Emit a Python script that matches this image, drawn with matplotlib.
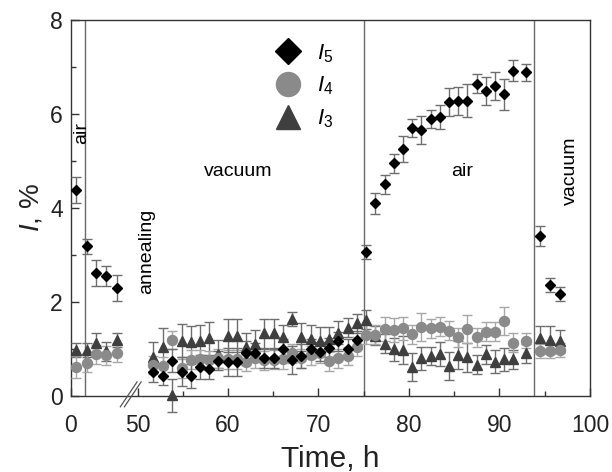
import matplotlib
matplotlib.use("Agg")
import matplotlib.pyplot as plt
import numpy as np

plt.rcParams['font.family'] = ['Liberation Sans', 'DejaVu Sans']
plt.rcParams['mathtext.fontset'] = 'custom'
plt.rcParams['mathtext.it'] = 'Liberation Sans:italic'
plt.rcParams['mathtext.rm'] = 'Liberation Sans'

# ---- data (time in h) ----
# first "air" segment, real hours from 0 (drawn left of the axis break)
t_first = [0.55, 1.74, 2.77, 3.87, 5.05]
i5_first = [4.38, 3.18, 2.61, 2.55, 2.29]
i5_first_err = [0.28, 0.16, 0.28, 0.22, 0.28]
i4_first = [0.62, 0.71, 0.89, 0.87, 0.92]
i4_first_err = [0.23, 0.2, 0.2, 0.2, 0.2]
i3_first = [0.98, 0.98, 1.13, 0.95, 1.19]
i3_first_err = [0.15, 0.15, 0.2, 0.2, 0.15]

# vacuum after annealing
t_vac = [51.75, 52.79, 53.85, 54.89, 55.88, 56.91, 57.94, 58.94, 59.98, 60.97,
         62.0, 63.03, 64.03, 65.06, 66.06, 67.09, 68.12, 69.12, 70.15, 71.18,
         72.18, 73.21, 74.25]
i5_vac = [0.50, 0.43, 0.75, 0.52, 0.43, 0.62, 0.57, 0.75, 0.72, 0.73, 0.92, 0.92,
          0.80, 0.80, 1.01, 0.77, 0.85, 1.01, 0.94, 1.03, 1.16, 1.01, 1.19]
i5_vac_err = [0.2, 0.2, 0.25, 0.3, 0.25, 0.25, 0.2, 0.2, 0.3, 0.3, 0.25, 0.2,
              0.2, 0.2, 0.2, 0.3, 0.25, 0.2, 0.2, 0.2, 0.2, 0.2, 0.2]
i4_vac = [0.66, 0.64, 1.19, 0.59, 0.77, 0.78, 0.76, 0.80, 0.78, 0.78, 0.73, 0.80,
          0.76, 0.77, 0.78, 0.91, 0.80, 0.87, 0.91, 0.74, 0.80, 0.85, 1.05]
i4_vac_err = [0.2, 0.2, 0.2, 0.2, 0.2, 0.2, 0.2, 0.2, 0.2, 0.2, 0.2, 0.2,
              0.2, 0.2, 0.2, 0.2, 0.2, 0.2, 0.2, 0.2, 0.2, 0.2, 0.2]
i3_vac = [0.84, 1.05, 0.02, 1.18, 1.14, 1.16, 1.23, 0.90, 1.28, 1.28, 1.05, 1.10,
          1.33, 1.33, 1.25, 1.63, 1.25, 1.21, 1.16, 1.21, 1.35, 1.45, 1.55]
i3_vac_err = [0.3, 0.4, 0.35, 0.35, 0.35, 0.35, 0.35, 0.3, 0.35, 0.35, 0.3, 0.3,
              0.3, 0.3, 0.25, 0.15, 0.3, 0.3, 0.3, 0.25, 0.25, 0.2, 0.2]

# second "air" segment
t_air = [75.24, 76.27, 77.30, 78.30, 79.34, 80.33, 81.36, 82.39, 83.38, 84.42,
         85.42, 86.45, 87.48, 88.47, 89.51, 90.54, 91.54, 92.98]
i5_air = [3.07, 4.10, 4.50, 4.95, 5.25, 5.70, 5.66, 5.89, 5.93, 6.26, 6.28, 6.28,
          6.64, 6.48, 6.60, 6.42, 6.92, 6.88]
i5_air_err = [0.15, 0.22, 0.2, 0.2, 0.27, 0.2, 0.3, 0.2, 0.25, 0.3, 0.3, 0.35,
              0.2, 0.3, 0.3, 0.33, 0.23, 0.18]
i4_air = [1.30, 1.30, 1.42, 1.40, 1.44, 1.31, 1.46, 1.44, 1.47, 1.39, 1.25, 1.42,
          1.25, 1.37, 1.37, 1.60, 1.13, 1.18]
i4_air_err = [0.2, 0.2, 0.25, 0.25, 0.25, 0.2, 0.3, 0.2, 0.2, 0.2, 0.2, 0.3,
              0.2, 0.2, 0.2, 0.3, 0.2, 0.15]
i3_air = [1.62, 1.28, 1.11, 0.99, 0.98, 0.61, 0.80, 0.85, 0.89, 0.64, 0.87, 0.82,
          0.67, 0.89, 0.73, 0.78, 0.78, 0.91]
i3_air_err = [0.2, 0.2, 0.2, 0.25, 0.3, 0.3, 0.25, 0.2, 0.25, 0.3, 0.3, 0.3,
              0.2, 0.2, 0.25, 0.25, 0.2, 0.2]

# final vacuum segment
t_end = [94.46, 95.57, 96.64]
i5_end = [3.40, 2.36, 2.17]
i5_end_err = [0.22, 0.15, 0.15]
i4_end = [0.95, 0.96, 0.97]
i4_end_err = [0.15, 0.15, 0.15]
i3_end = [1.23, 1.19, 1.16]
i3_end_err = [0.25, 0.3, 0.25]

x_tick_labels = ['0', '50', '60', '70', '80', '90', '100']
switch_first = 1.55      # vacuum -> air switch inside first segment (real h)
switch_lines = [75.0, 93.8]

# first segment is drawn shifted so that its 0 h sits at the axis start
x_start = 42.65


def shift(t):
    return [v + x_start for v in t]


t_all = shift(t_first) + t_vac + t_air + t_end
i5 = i5_first + i5_vac + i5_air + i5_end
i5_err = i5_first_err + i5_vac_err + i5_air_err + i5_end_err
i4 = i4_first + i4_vac + i4_air + i4_end
i4_err = i4_first_err + i4_vac_err + i4_air_err + i4_end_err
i3 = i3_first + i3_vac + i3_air + i3_end
i3_err = i3_first_err + i3_vac_err + i3_air_err + i3_end_err

fig = plt.figure(figsize=(6.12, 4.72), dpi=100)
ax = fig.add_axes([0.116, 0.161, 0.848, 0.797])

series = [
    (i3, i3_err, '^', '#3f3f3f', 7.0, '#6e6e6e', '$I_{3}$'),
    (i4, i4_err, 'o', '#8a8a8a', 7.2, '#a8a8a8', '$I_{4}$'),
    (i5, i5_err, 'D', 'black', 5.5, '#6e6e6e', '$I_{5}$'),
]
handles = {}
for y, e, m, c, ms, ec, lab in series:
    h = ax.errorbar(t_all, y, yerr=e, fmt=m, color=c, ms=ms, mec=c,
                    ecolor=ec, elinewidth=1.0, capsize=3.3, capthick=1.0,
                    label=lab, clip_on=False, zorder=3)
    for art in h.lines[1] + h.lines[2]:
        art.set_clip_on(False)
    handles[lab] = h.lines[0]

# phase borders
ax.axvline(x_start + switch_first, color='#6a6a6a', lw=1.0, zorder=1)
for xv in switch_lines:
    ax.axvline(xv, color='#6a6a6a', lw=1.0, zorder=1)

# annotations
ax.text(x_start + 1.2, 5.6, 'air', rotation=90, fontsize=14, ha='center', va='center')
ax.text(51.05, 3.07, 'annealing', rotation=90, fontsize=14, ha='center', va='center')
ax.text(61.1, 4.77, 'vacuum', fontsize=14, ha='center', va='center')
ax.text(85.9, 4.77, 'air', fontsize=14, ha='center', va='center')
ax.text(97.85, 4.79, 'vacuum', rotation=90, fontsize=14, ha='center', va='center')

# axis break marks
for dx in [0.0, 0.45]:
    ax.plot([48.1 + dx, 49.95 + dx], [-0.23, 0.3], color='#555555', lw=0.9,
            clip_on=False, zorder=4)

ax.set_xlim(x_start, 100)
ax.set_ylim(0, 8)
ax.set_xticks([x_start, 50, 60, 70, 80, 90, 100])
ax.set_xticklabels(x_tick_labels)
ax.set_xticks([55, 65, 75, 85, 95], minor=True)
ax.set_yticks([0, 2, 4, 6, 8])
ax.set_yticks([1, 3, 5, 7], minor=True)
ax.tick_params(which='both', direction='in', labelsize=16.5, colors='#333333',
               labelcolor='#222222')
ax.tick_params(which='major', length=6, width=1)
ax.tick_params(which='minor', length=3.5, width=1)
ax.tick_params(axis='x', pad=13)
ax.tick_params(axis='y', pad=6)
for sp in ax.spines.values():
    sp.set_color('#333333')
    sp.set_linewidth(1.0)

ax.set_xlabel('Time, h', fontsize=21.5, color='#222222', labelpad=6)
ax.set_ylabel('$I$, %', fontsize=20, color='#222222', labelpad=4)

leg = ax.legend([handles['$I_{5}$'], handles['$I_{4}$'], handles['$I_{3}$']],
                ['$I_{5}$', '$I_{4}$', '$I_{3}$'],
                loc='upper left', bbox_to_anchor=(0.372, 0.97), frameon=False,
                fontsize=16, markerscale=2.4, handlelength=1.2,
                handletextpad=0.7, labelspacing=0.45, borderpad=0)

plt.savefig('out.png', dpi=100)
